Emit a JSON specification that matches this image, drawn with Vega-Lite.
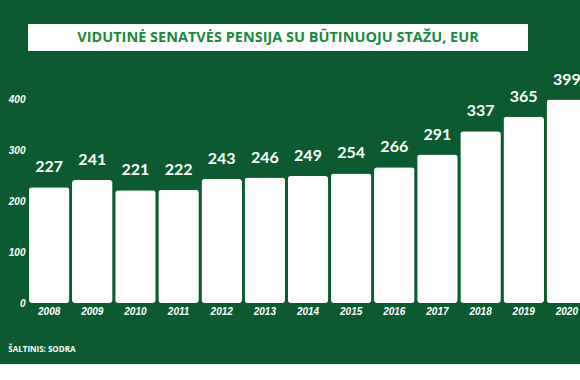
{
  "$schema": "https://vega.github.io/schema/vega-lite/v6.json",
  "background": "#0c5a2f",
  "padding": {"left": 8, "top": 24, "right": 0, "bottom": 10},
  "bounds": "flush",
  "spacing": 48,
  "config": {"view": {"stroke": null}},
  "datasets": {
    "pension": [
      {"year": "2008", "value": 227},
      {"year": "2009", "value": 241},
      {"year": "2010", "value": 221},
      {"year": "2011", "value": 222},
      {"year": "2012", "value": 243},
      {"year": "2013", "value": 246},
      {"year": "2014", "value": 249},
      {"year": "2015", "value": 254},
      {"year": "2016", "value": 266},
      {"year": "2017", "value": 291},
      {"year": "2018", "value": 337},
      {"year": "2019", "value": 365},
      {"year": "2020", "value": 399}
    ],
    "heading": [{"text": "VIDUTINĖ SENATVĖS PENSIJA SU BŪTINUOJU STAŽU, EUR"}]
  },
  "vconcat": [
    {
      "width": 500,
      "height": 27,
      "view": {"fill": "#ffffff", "stroke": null},
      "data": {"name": "heading"},
      "mark": {"type": "text", "font": "Open Sans", "fontWeight": "bold", "fontSize": 14.5, "color": "#1b8a3e", "align": "center", "baseline": "middle"},
      "encoding": {"text": {"field": "text"}}
    },
    {
      "width": 560,
      "height": 204,
      "data": {"name": "pension"},
      "title": {
        "text": "ŠALTINIS: SODRA",
        "orient": "bottom",
        "anchor": "start",
        "frame": "bounds",
        "offset": 30,
        "font": "Open Sans",
        "fontWeight": "bold",
        "fontSize": 8,
        "color": "#ffffff"
      },
      "layer": [
        {
          "mark": {"type": "bar", "color": "#ffffff", "cornerRadius": 3},
          "encoding": {
            "x": {
              "field": "year", "type": "ordinal",
              "scale": {"paddingInner": 0.06, "paddingOuter": 0.02},
              "axis": {"title": null, "labelAngle": 0, "domain": false, "ticks": false, "labelPadding": 3, "labelColor": "#ffffff", "labelFont": "Liberation Sans", "labelFontStyle": "italic", "labelFontWeight": "bold", "labelFontSize": 10}
            },
            "y": {
              "field": "value", "type": "quantitative",
              "scale": {"domain": [0, 400]},
              "axis": {"title": null, "values": [0, 100, 200, 300, 400], "grid": false, "domain": false, "ticks": false, "labelPadding": 3, "labelColor": "#ffffff", "labelFont": "Liberation Sans", "labelFontStyle": "italic", "labelFontWeight": "bold", "labelFontSize": 10}
            }
          }
        },
        {
          "mark": {"type": "text", "color": "#ffffff", "font": "Lato", "fontWeight": "bold", "fontSize": 16, "baseline": "bottom", "dy": -12},
          "encoding": {
            "x": {"field": "year", "type": "ordinal"},
            "y": {"field": "value", "type": "quantitative"},
            "text": {"field": "value"}
          }
        }
      ]
    }
  ]
}
